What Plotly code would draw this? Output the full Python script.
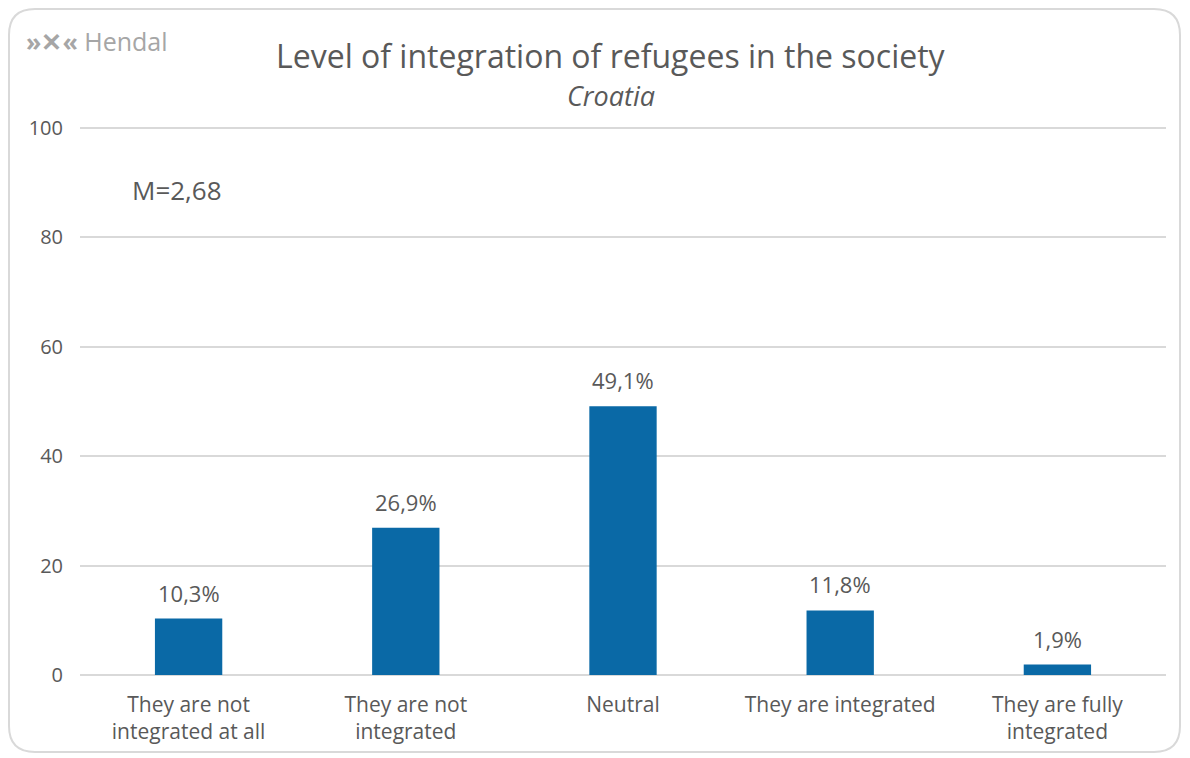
import plotly.graph_objects as go

categories = ["They are not<br>integrated at all", "They are not<br>integrated", "Neutral",
              "They are integrated", "They are fully<br>integrated"]
values = [10.3, 26.9, 49.1, 11.8, 1.9]
y_ticks = [0, 20, 40, 60, 80, 100]
title_text = "Level of integration of refugees in the society"
subtitle_text = "Croatia"
mean_text = "M=2,68"
labels = [f"{v:.1f}%".replace(".", ",") for v in values]

# page body has an 8px margin, so the figure is laid out 8px in from the window edge
W, H = 1182, 750
ml, mr, mt, mb = 72, 24, 118, 83
pw, ph = W - ml - mr, H - mt - mb
OFF = 8

def px_x(x):
    return (x - OFF - ml) / pw

def px_y(y):
    return (H - mb - (y - OFF)) / ph

FONT = "Open Sans"
GREY = "#595959"

fig = go.Figure()
fig.add_trace(go.Bar(
    x=categories, y=values,
    marker=dict(color="#0a69a6", line=dict(width=0)),
    cliponaxis=False, width=0.31,
))

# data labels above bars
for c, v, t in zip(categories, values, labels):
    fig.add_annotation(x=c, y=v, xref="x", yref="y", text=t, showarrow=False,
                       font=dict(family=FONT, size=22, color=GREY),
                       xanchor="center", yanchor="bottom", yshift=9)

# rounded frame
x0, x1 = px_x(9), px_x(1180)
y0, y1 = px_y(752), px_y(9)
rx, ry = 26 / pw, 26 / ph
path = (f"M {x0+rx},{y1} L {x1-rx},{y1} Q {x1},{y1} {x1},{y1-ry} "
        f"L {x1},{y0+ry} Q {x1},{y0} {x1-rx},{y0} "
        f"L {x0+rx},{y0} Q {x0},{y0} {x0},{y0+ry} "
        f"L {x0},{y1-ry} Q {x0},{y1} {x0+rx},{y1} Z")
fig.add_shape(type="path", path=path, xref="paper", yref="paper",
              line=dict(color="#d9d9d9", width=2), fillcolor="rgba(0,0,0,0)", layer="below")

fig.add_annotation(x=px_x(611), y=px_y(55), xref="paper", yref="paper", text=title_text,
                   showarrow=False, font=dict(family=FONT, size=32, color=GREY),
                   xanchor="center", yanchor="middle")
fig.add_annotation(x=px_x(611), y=px_y(95), xref="paper", yref="paper", text=f"<i>{subtitle_text}</i>",
                   showarrow=False, font=dict(family=FONT, size=27, color=GREY),
                   xanchor="center", yanchor="middle")
fig.add_annotation(x=px_x(130), y=px_y(190), xref="paper", yref="paper", text=mean_text,
                   showarrow=False, font=dict(family=FONT, size=26, color=GREY),
                   xanchor="left", yanchor="middle")
fig.add_annotation(x=px_x(24), y=px_y(41), xref="paper", yref="paper",
                   text="<b>»✕«</b> Hendal",
                   showarrow=False, font=dict(family=FONT, size=25, color="#a6a6a6"),
                   xanchor="left", yanchor="middle")

fig.update_layout(
    width=W, height=H, margin=dict(l=ml, r=mr, t=mt, b=mb),
    paper_bgcolor="white", plot_bgcolor="white", showlegend=False,
    font=dict(family=FONT, color=GREY),
    xaxis=dict(showgrid=False, showline=False, ticks="", tickfont=dict(size=21, color=GREY),
               zeroline=False, ticklabelstandoff=15),
    yaxis=dict(range=[0, 100.3], tickvals=y_ticks, showgrid=True, gridcolor="#d9d9d9", gridwidth=1.5,
               zeroline=True, zerolinecolor="#d9d9d9", zerolinewidth=1.5, showline=False,
               tickfont=dict(size=20, color=GREY), ticklabelstandoff=16, fixedrange=True),
    bargap=0.69,
)
fig.write_html("out.html")
